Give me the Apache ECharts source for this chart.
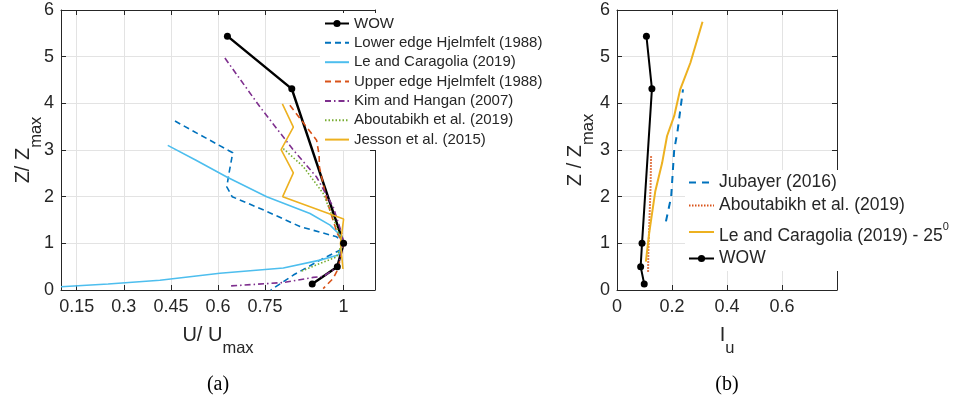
<!DOCTYPE html>
<html><head><meta charset="utf-8">
<script src="https://cdn.jsdelivr.net/npm/echarts@6/dist/echarts.min.js"></script>
<style>html,body{margin:0;padding:0;background:#fff}#c{width:956px;height:402px}</style>
</head><body><div id="c"></div>
<script>
// ---------- panel (a): U/Umax vs Z/Zmax ----------
const xTicksA = [0.15, 0.3, 0.45, 0.6, 0.75, 1];
const yTicks = [0, 1, 2, 3, 4, 5, 6];

const wowA_U = [0.63, 0.835, 1.0, 0.98, 0.90];
const wowA_Z = [5.44, 4.31, 1.0, 0.5, 0.13];

const lowerHj_U = [0.463, 0.647, 0.635, 0.628, 0.645, 0.75, 0.861, 0.978, 1.0, 0.99, 0.925, 0.84, 0.768];
const lowerHj_Z = [3.62, 2.94, 2.5, 2.21, 2.0, 1.7, 1.36, 1.14, 1.0, 0.86, 0.64, 0.32, 0.0];

const leCar_U = [0.44, 0.53, 0.628, 0.755, 0.893, 0.957, 0.994, 1.0, 0.983, 0.925, 0.808, 0.606, 0.415, 0.25, 0.1];
const leCar_Z = [3.10, 2.78, 2.42, 2.0, 1.64, 1.39, 1.14, 1.0, 0.75, 0.64, 0.47, 0.36, 0.21, 0.13, 0.07];

const upperHj_U = [0.829, 0.914, 0.922, 0.923, 0.946, 0.98, 1.0, 0.99, 0.983, 0.967, 0.935];
const upperHj_Z = [3.96, 3.21, 2.9, 2.64, 1.93, 1.21, 1.0, 0.7, 0.46, 0.25, 0.03];

const kim_U = [0.622, 0.734, 0.84, 0.914, 0.967, 0.994, 1.0, 0.99, 0.983, 0.935, 0.903, 0.808, 0.638];
const kim_Z = [4.97, 3.92, 3.0, 2.42, 1.78, 1.21, 1.0, 0.75, 0.5, 0.29, 0.27, 0.16, 0.086];

const aboutA_U = [0.808, 0.872, 0.935, 0.978, 0.995, 0.978, 0.925, 0.861];
const aboutA_Z = [3.03, 2.64, 2.07, 1.35, 1.0, 0.71, 0.57, 0.39];

const jesson_U = [0.805, 0.84, 0.801, 0.84, 0.806, 1.0, 0.99, 0.998];
const jesson_Z = [3.99, 3.49, 3.01, 2.51, 2.0, 1.52, 1.0, 0.45];

// ---------- panel (b): Iu vs Z/Zmax ----------
const xTicksB = [0, 0.2, 0.4, 0.6];

const wowB_I = [0.107, 0.127, 0.091, 0.086, 0.099];
const wowB_Z = [5.44, 4.31, 1.0, 0.5, 0.13];

const jubayer_I = [0.178, 0.197, 0.208, 0.22, 0.24];
const jubayer_Z = [1.47, 2.0, 3.0, 3.4, 4.3];

const aboutB_I = [0.113, 0.114, 0.118, 0.122, 0.124];
const aboutB_Z = [0.39, 0.8, 1.5, 2.2, 2.9];

const le25_I = [0.105, 0.117, 0.139, 0.164, 0.182, 0.208, 0.23, 0.267, 0.311];
const le25_Z = [0.61, 1.22, 2.11, 2.72, 3.3, 3.73, 4.3, 4.87, 5.75];

const legendA = ['WOW', 'Lower edge Hjelmfelt (1988)', 'Le and Caragolia (2019)', 'Upper edge Hjelmfelt (1988)',
                 'Kim and Hangan (2007)', 'Aboutabikh et al. (2019)', 'Jesson et al. (2015)'];
const legendB = ['Jubayer (2016)', 'Aboutabikh et al. (2019) ', 'Le and Caragolia (2019) - 25', 'WOW '];

const zip = (a, b) => a.map((v, i) => [v, b[i]]);

const FONT = 'Liberation Sans, Arial, Helvetica, sans-serif';
const TXT = '#262626';
const GRIDC = '#e3e3e3';

function baseAxis(extra) {
  return Object.assign({
    type: 'value',
    axisLine: { show: true, onZero: false, lineStyle: { color: TXT, width: 1 } },
    axisTick: { show: true, inside: true, length: 5, lineStyle: { color: TXT } },
    axisLabel: { color: TXT, fontSize: 18, fontFamily: FONT },
    splitLine: { show: false },
    nameMoveOverlap: false,
    nameTextStyle: { color: TXT, fontFamily: FONT }
  }, extra);
}
function titleRich() {
  return { rich: {
    a: { fontSize: 20, color: TXT, fontFamily: FONT },
    b: { fontSize: 16.5, color: TXT, fontFamily: FONT, padding: [26, 0, 0, 0] }
  } };
}
const hideSym = (n) => n.trim() === 'WOW' ? { name: n } : { name: n, itemStyle: { opacity: 0 } };

const chart = echarts.init(document.getElementById('c'), null, { renderer: 'canvas' });

const dashed = [6, 4];
const dashDot = [6, 3, 1.5, 3];
const dotted = [1.5, 2];

const option = {
  animation: false,
  backgroundColor: '#fff',
  textStyle: { fontFamily: FONT },
  grid: [
    { left: 61, top: 10, width: 314, height: 280 },
    { left: 617, top: 10, width: 220, height: 280 }
  ],
  xAxis: [
    baseAxis({
      gridIndex: 0, position: 'bottom', min: 0.1, max: 1.1,
      axisTick: { show: true, inside: true, length: 5, lineStyle: { color: TXT }, customValues: xTicksA },
      axisLabel: { color: TXT, fontSize: 18, fontFamily: FONT, margin: 8, customValues: xTicksA },
      splitLine: { show: true, lineStyle: { color: GRIDC, width: 1 } },
      name: '{a|U/ U}{b|max}', nameLocation: 'middle', nameGap: 24,
      nameTextStyle: titleRich()
    }),
    baseAxis({
      gridIndex: 0, position: 'top', min: 0.1, max: 1.1,
      axisTick: { show: true, inside: true, length: 5, lineStyle: { color: TXT }, customValues: xTicksA },
      axisLabel: { show: false }
    }),
    baseAxis({
      gridIndex: 1, position: 'bottom', min: 0, max: 0.8, interval: 0.2,
      axisLabel: { color: TXT, fontSize: 18, fontFamily: FONT, margin: 8, customValues: xTicksB },
      splitLine: { show: true, lineStyle: { color: GRIDC, width: 1 } },
      name: '{a|I}{b|u}', nameLocation: 'middle', nameGap: 24,
      nameTextStyle: titleRich()
    }),
    baseAxis({
      gridIndex: 1, position: 'top', min: 0, max: 0.8, interval: 0.2,
      axisLabel: { show: false }
    })
  ],
  yAxis: [
    baseAxis({
      gridIndex: 0, position: 'left', min: 0, max: 6, interval: 1,
      axisLabel: { color: TXT, fontSize: 18, fontFamily: FONT, margin: 7 },
      splitLine: { show: true, lineStyle: { color: GRIDC, width: 1 } },
      name: '{a|Z/ Z}{b|max}', nameLocation: 'middle', nameGap: 16,
      nameTextStyle: titleRich()
    }),
    baseAxis({ gridIndex: 0, position: 'right', min: 0, max: 6, interval: 1, axisLabel: { show: false } }),
    baseAxis({
      gridIndex: 1, position: 'left', min: 0, max: 6, interval: 1,
      axisLabel: { color: TXT, fontSize: 18, fontFamily: FONT, margin: 7 },
      splitLine: { show: true, lineStyle: { color: GRIDC, width: 1 } },
      name: '{a|Z / Z}{b|max}', nameLocation: 'middle', nameGap: 20,
      nameTextStyle: titleRich()
    }),
    baseAxis({ gridIndex: 1, position: 'right', min: 0, max: 6, interval: 1, axisLabel: { show: false } })
  ],
  legend: [
    {
      orient: 'vertical', left: 320, top: 13, padding: [3, 6, 3, 4],
      backgroundColor: '#fff', itemWidth: 24, itemHeight: 9, itemGap: 4.35,
      textStyle: { fontSize: 15, color: TXT, fontFamily: FONT, lineHeight: 15 },
      data: legendA.map(hideSym)
    },
    {
      orient: 'vertical', left: 685, top: 170, padding: [3, 6, 3, 3],
      backgroundColor: '#fff', itemWidth: 25, itemHeight: 9, itemGap: 4,
      textStyle: { fontSize: 17.5, color: TXT, fontFamily: FONT, lineHeight: 19,
        rich: {
          m: { fontSize: 17.5, color: TXT, fontFamily: FONT, lineHeight: 17, padding: [8, 0, 0, 0] },
          sup: { fontSize: 11, color: TXT, fontFamily: FONT, lineHeight: 12, padding: [0, 0, 10, 0] }
        } },
      formatter: function (n) {
        return n === 'Le and Caragolia (2019) - 25' ? '{m|' + n + '}{sup|0}' : n.trim();
      },
      data: legendB.map(hideSym)
    }
  ],
  graphic: [
    { type: 'text', x: 218, y: 385, style: { text: '(a)', font: '20px Liberation Serif, Times New Roman, serif', fill: '#000', align: 'center', verticalAlign: 'middle' } },
    { type: 'text', x: 727, y: 385, style: { text: '(b)', font: '20px Liberation Serif, Times New Roman, serif', fill: '#000', align: 'center', verticalAlign: 'middle' } }
  ],
  series: [
    { name: 'WOW', type: 'line', xAxisIndex: 0, yAxisIndex: 0, data: zip(wowA_U, wowA_Z),
      symbol: 'circle', symbolSize: 7, z: 3,
      lineStyle: { color: '#000', width: 2.5 }, itemStyle: { color: '#000' } },
    { name: 'Lower edge Hjelmfelt (1988)', type: 'line', xAxisIndex: 0, yAxisIndex: 0, data: zip(lowerHj_U, lowerHj_Z),
      symbol: 'none', lineStyle: { color: '#0072BD', width: 1.6, type: dashed }, itemStyle: { color: '#0072BD' } },
    { name: 'Le and Caragolia (2019)', type: 'line', xAxisIndex: 0, yAxisIndex: 0, data: zip(leCar_U, leCar_Z),
      symbol: 'none', lineStyle: { color: '#4DBEEE', width: 1.6 }, itemStyle: { color: '#4DBEEE' } },
    { name: 'Upper edge Hjelmfelt (1988)', type: 'line', xAxisIndex: 0, yAxisIndex: 0, data: zip(upperHj_U, upperHj_Z),
      symbol: 'none', lineStyle: { color: '#D95319', width: 1.6, type: dashed }, itemStyle: { color: '#D95319' } },
    { name: 'Kim and Hangan (2007)', type: 'line', xAxisIndex: 0, yAxisIndex: 0, data: zip(kim_U, kim_Z),
      symbol: 'none', lineStyle: { color: '#7E2F8E', width: 1.6, type: dashDot }, itemStyle: { color: '#7E2F8E' } },
    { name: 'Aboutabikh et al. (2019)', type: 'line', xAxisIndex: 0, yAxisIndex: 0, data: zip(aboutA_U, aboutA_Z),
      symbol: 'none', lineStyle: { color: '#77AC30', width: 1.6, type: dotted }, itemStyle: { color: '#77AC30' } },
    { name: 'Jesson et al. (2015)', type: 'line', xAxisIndex: 0, yAxisIndex: 0, data: zip(jesson_U, jesson_Z),
      symbol: 'none', lineStyle: { color: '#EDB120', width: 1.6 }, itemStyle: { color: '#EDB120' } },

    { name: 'Jubayer (2016)', type: 'line', xAxisIndex: 2, yAxisIndex: 2, data: zip(jubayer_I, jubayer_Z),
      symbol: 'none', lineStyle: { color: '#0072BD', width: 2, type: [7, 6] }, itemStyle: { color: '#0072BD' } },
    { name: 'Aboutabikh et al. (2019) ', type: 'line', xAxisIndex: 2, yAxisIndex: 2, data: zip(aboutB_I, aboutB_Z),
      symbol: 'none', lineStyle: { color: '#D95319', width: 2, type: [1.5, 1.5] }, itemStyle: { color: '#D95319' } },
    { name: 'Le and Caragolia (2019) - 25', type: 'line', xAxisIndex: 2, yAxisIndex: 2, data: zip(le25_I, le25_Z),
      symbol: 'none', lineStyle: { color: '#EDB120', width: 2 }, itemStyle: { color: '#EDB120' } },
    { name: 'WOW ', type: 'line', xAxisIndex: 2, yAxisIndex: 2, data: zip(wowB_I, wowB_Z),
      symbol: 'circle', symbolSize: 7, z: 3,
      lineStyle: { color: '#000', width: 2 }, itemStyle: { color: '#000' } }
  ]
};
chart.setOption(option);
</script>
</body></html>
